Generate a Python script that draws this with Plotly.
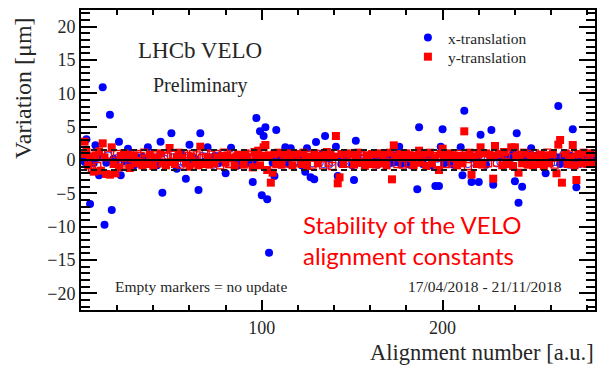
import plotly.graph_objects as go

# Alignment runs 1..283 and the variation of the VELO half alignment (µm)
alignment = list(range(1, 284))

x_translation = [
    0.4, -0.3, 3.1, 0.6, -6.6, 0.2, -0.5, 2.2, 0.3, -2.3,
    0.5, 10.9, -9.7, -0.4, 0.7, 6.8, -7.5, 0.2, -0.6, 0.3,
    2.75, -2.3, 0.4, -0.2, 0.5, 1.7, -0.3, 0.2, -0.9, 0.6,
    -0.4, 0.3, -0.7, 0.5, -0.2, 0.1, 1.9, -0.5, 0.4, -0.6,
    0.3, -0.8, 0.5, 2.75, -4.9, 0.2, -0.4, 0.6, -0.3, 4.0,
    0.4, -0.7, -1.3, 0.5, -0.2, 0.8, -0.5, -2.8, 0.3, 2.3,
    -0.6, 0.4, 0.2, -0.5, -4.5, 4.0, 0.6, -0.3, 0.5, 1.9,
    -0.4, 0.3, -0.7, 0.6, 0.1, -0.5, 0.7, -0.2, 0.4, -2.0,
    0.5, -0.6, 1.85, 0.2, -0.4, 0.6, -0.8, 0.3, 0.5, -0.3,
    0.7, -0.5, 0.2, 0.4, -3.3, -0.6, 6.3, 0.5, 4.3, -5.3,
    3.6, 4.9, -5.9, -13.9, 0.6, -0.4, -2.4, 4.5, 0.3, -0.7,
    0.5, -0.3, 1.9, 0.2, -0.6, 1.75, 0.4, -0.5, 0.7, -0.2,
    0.3, -0.8, 0.6, -1.75, 1.75, 0.4, -2.6, -0.5, -2.9, 2.7,
    0.5, -0.4, 0.8, -0.6, 3.6, 0.3, -0.7, 0.6, -0.3, 0.5,
    2.0, -2.4, 0.4, -0.6, 0.7, -0.2, 0.5, -0.5, 0.3, -0.8,
    -3.0, 2.9, 0.6, -0.4, 0.2, 0.7, -0.6, 0.4, -0.3, 0.8,
    -0.5, 0.3, 0.6, -0.7, 0.4, -0.2, 0.9, -0.5, 0.3, -0.6,
    0.5, -0.4, 0.7, -0.3, 0.2, 2.0, -0.6, 0.4, 0.8, -0.5,
    0.3, -0.7, 0.6, 0.2, -0.4, -4.4, 4.9, 0.5, -0.6, 0.3,
    0.7, -0.3, 0.4, -0.8, 0.6, -3.9, 0.2, -3.9, 2.0, 4.6,
    -0.5, 0.3, 0.8, -0.4, 0.6, -0.7, 0.2, 0.5, -0.3, 1.9,
    -2.3, 7.4, 0.4, -0.6, 0.7, -3.3, 0.3, -0.5, 0.6, -3.3,
    3.8, -0.4, 0.5, -0.7, 0.3, 0.8, 4.5, -3.7, 0.4, -0.5,
    0.6, -0.3, 0.7, -0.8, 0.4, 0.2, -0.6, 0.5, 0.9, -3.2,
    4.0, -6.4, 0.3, -4.0, 0.6, -0.5, 0.7, -0.3, 1.75, 0.4,
    -0.6, 0.5, 0.8, -0.4, 0.3, -0.7, -2.0, 0.6, 0.2, -0.5,
    0.7, -0.3, 0.4, 8.1, -0.6, 0.5, 0.9, -0.4, 0.3, -0.7,
    0.6, 4.6, -0.2, -4.1, 0.5, -0.6, 0.8, 0.3, -0.5, 0.4,
    0.6, -0.3, 0.5,
]

y_translation = [
    0.9, 2.75, 1.2, -0.8, 0.5, -1.2, -1.75, 0.7, -0.9, 1.3,
    -1.6, 2.5, 0.4, -2.1, 0.8, -2.2, 1.9, -0.6, -2.0, 0.9,
    -1.1, 0.6, -0.7, 1.0, -0.4, 0.8, -1.2, 0.3, 0.7, -0.5,
    0.9, -0.3, 0.6, -0.8, 1.1, 0.2, -0.6, 0.8, 0.4, -0.9,
    0.7, 0.3, -0.5, 1.0, -0.4, 0.6, -0.8, 0.5, 1.8, -0.3,
    0.8, -0.6, 0.4, 1.1, -0.7, 0.3, 0.9, -0.4, 0.6, -1.0,
    0.5, 0.9, -0.5, 0.7, -0.8, 2.0, 0.3, -0.6, 1.0, 0.4,
    -0.7, 0.8, 0.2, -0.5, 0.9, 0.4, -0.8, 0.6, 1.1, -0.4,
    0.7, -0.6, 0.3, 0.9, -0.9, 0.5, 0.8, -0.3, 0.6, -0.7,
    1.0, 0.4, -0.5, 0.8, -1.1, 1.2, 0.5, 1.4, -0.8, 0.6,
    1.9, 2.25, -1.5, 0.7, -3.4, -1.9, 0.9, -0.6, 1.1, 0.3,
    -0.7, 0.8, 0.4, -0.5, 1.0, 0.6, -0.8, 0.5, 0.9, -0.4,
    0.7, -0.6, 1.1, 0.3, -0.9, 0.8, 0.5, -0.7, 1.0, 0.4,
    -0.5, 0.9, 0.6, -0.8, 0.7, 1.2, -0.4, 0.8, -0.9, 0.5,
    3.6, -3.5, -2.6, 0.9, -0.6, 0.7, 1.0, -0.5, 0.4, 0.8,
    -0.7, 0.6, 1.1, -0.4, 0.8, 0.3, -0.9, 0.7, 0.5, -0.6,
    0.9, 0.4, -0.7, 1.0, 0.6, -0.5, 0.8, 0.3, -0.8, 0.7,
    1.1, -2.9, 2.2, 0.5, -0.6, 0.9, 0.4, -0.7, 0.8, 1.0,
    -0.5, 0.7, 0.3, -0.8, 0.9, 0.6, 1.4, -0.4, 0.8, 0.5,
    -0.9, 0.7, 1.1, -0.5, 0.6, 0.4, -0.7, -1.5, 0.9, 1.7,
    0.5, -0.6, 0.8, 1.0, -0.4, 0.7, 0.3, -0.8, 0.9, 0.6,
    -0.5, 4.3, 0.7, -0.9, 1.1, -2.2, 0.5, 0.8, -0.6, 0.9,
    1.9, -0.7, 0.4, 1.0, -0.5, 0.8, 0.6, -2.8, 2.1, -0.4,
    0.9, 0.5, -0.8, 1.2, 0.7, -0.6, 0.4, 1.9, -0.9, 1.9,
    0.6, -1.9, 0.8, -0.5, 1.1, 0.4, -0.7, 0.9, 0.6, -0.8,
    1.0, 0.5, -0.6, 0.8, 0.3, -0.9, 0.7, 1.1, -0.5, 0.6,
    0.9, -0.7, -2.0, 2.3, 3.0, -3.4, 0.5, 1.0, -0.6, 0.8,
    0.4, 2.25, -0.8, -3.0, 0.9, 0.6, -0.5, 1.1, 0.7, -0.6,
    0.8, 1.0, -0.4,
]

# Runs where the alignment constants were not updated (drawn as empty markers)
no_update = [
    6, 9, 15, 20, 23, 25, 28, 31, 33, 35, 36, 39, 41, 43, 46, 48, 51, 55, 57,
    59, 62, 64, 67, 69, 72, 73, 75, 77, 79, 82, 84, 86, 88, 89, 93, 94, 110,
    114, 118, 120, 121, 126, 128, 132, 134, 137, 139, 146, 148, 149, 155, 156,
    159, 162, 165, 168, 170, 175, 178, 181, 183, 185, 190, 192, 195, 197, 202,
    205, 207, 209, 214, 218, 223, 225, 230, 232, 235, 237, 246, 248, 251, 255,
    258, 260, 262, 267, 270, 276, 279, 281,
]

# Update thresholds (µm)
thresholds = [-1.5, 1.5]

x_tick_values = [100, 200]

BLUE = "#0000ff"
RED = "#ff0000"
SERIF = "Liberation Serif"
INK = "#262626"

skip = set(no_update)
upd_idx = [i for i, a in enumerate(alignment) if a not in skip]
noupd_idx = [i for i, a in enumerate(alignment) if a in skip]


def pick(values, idx):
    return [values[i] for i in idx]


fig = go.Figure()

# empty x-translation markers (no update)
fig.add_trace(go.Scatter(
    x=pick(alignment, noupd_idx), y=pick(x_translation, noupd_idx),
    mode="markers", showlegend=False,
    marker=dict(symbol="circle-open", size=7, color="#2a3cff", line=dict(width=1.1)),
))
# filled x-translation markers (updated runs)
fig.add_trace(go.Scatter(
    x=pick(alignment, upd_idx), y=pick(x_translation, upd_idx),
    mode="markers", name="x-translation", legend="legend",
    marker=dict(symbol="circle", size=8, color=BLUE, line=dict(width=0)),
))
# empty y-translation markers (no update)
fig.add_trace(go.Scatter(
    x=pick(alignment, noupd_idx), y=pick(y_translation, noupd_idx),
    mode="markers", showlegend=False,
    marker=dict(symbol="square-open", size=7, color=RED, line=dict(width=1.3)),
))
# filled y-translation markers (updated runs)
fig.add_trace(go.Scatter(
    x=pick(alignment, upd_idx), y=pick(y_translation, upd_idx),
    mode="markers", name="y-translation", legend="legend2",
    marker=dict(symbol="square", size=8, color=RED, line=dict(width=0)),
))

# zero line and dashed threshold lines
fig.add_hline(y=0, line=dict(color="black", width=2), layer="above")
for t in thresholds:
    fig.add_hline(y=t, line=dict(color="#1a1a1a", width=2, dash="6px,4px"), layer="above")

axis_common = dict(
    showline=True, linecolor="black", linewidth=2, mirror="allticks",
    ticks="inside", tickcolor="black", tickwidth=2,
    showgrid=False, zeroline=False,
    tickfont=dict(family=SERIF, size=18, color=INK),
)

fig.update_xaxes(
    range=[0, 284.3],
    tickmode="array", tickvals=x_tick_values, ticklen=10,
    minor=dict(tickmode="linear", tick0=0, dtick=20, ticklen=5, ticks="inside",
               tickcolor="black", tickwidth=2),
    **axis_common,
)
fig.update_yaxes(
    range=[-22.5, 22.5],
    tickmode="linear", tick0=0, dtick=5, ticklen=16,
    minor=dict(tickmode="linear", tick0=0, dtick=1, ticklen=9, ticks="inside",
               tickcolor="black", tickwidth=2),
    **axis_common,
)

annotations = [
    dict(text="Variation [μm]", textangle=-90, xref="paper", yref="paper",
         x=-0.113, y=0.74, xanchor="center", yanchor="middle", showarrow=False,
         font=dict(family=SERIF, size=24, color=INK)),
    dict(text="Alignment number [a.u.]", xref="paper", yref="paper",
         x=1.002, y=-0.14, xanchor="right", yanchor="middle", showarrow=False,
         font=dict(family=SERIF, size=22.5, color=INK)),
    dict(text="LHCb VELO", xref="paper", yref="paper",
         x=0.231, y=0.865, xanchor="center", yanchor="middle", showarrow=False,
         font=dict(family=SERIF, size=23, color=INK)),
    dict(text="Preliminary", xref="paper", yref="paper",
         x=0.231, y=0.747, xanchor="center", yanchor="middle", showarrow=False,
         font=dict(family=SERIF, size=20, color=INK)),
    dict(text="Empty markers = no update", xref="paper", yref="paper",
         x=0.062, y=0.08, xanchor="left", yanchor="middle", showarrow=False,
         font=dict(family=SERIF, size=15.5, color=INK)),
    dict(text="17/04/2018 - 21/11/2018", xref="paper", yref="paper",
         x=0.94, y=0.08, xanchor="right", yanchor="middle", showarrow=False,
         font=dict(family=SERIF, size=15.5, color=INK)),
    dict(text="Stability of the VELO", xref="paper", yref="paper",
         x=0.428, y=0.285, xanchor="left", yanchor="middle", showarrow=False,
         font=dict(family="Lato", size=24, color=RED)),
    dict(text="alignment constants", xref="paper", yref="paper",
         x=0.428, y=0.182, xanchor="left", yanchor="middle", showarrow=False,
         font=dict(family="Lato", size=24, color=RED)),
]

legend_style = dict(xanchor="left", yanchor="middle", bgcolor="rgba(0,0,0,0)",
                    font=dict(family=SERIF, size=15.5, color=INK))

fig.update_layout(
    width=601, height=365,
    margin=dict(l=81, r=4, t=10, b=55),
    paper_bgcolor="white", plot_bgcolor="white",
    annotations=annotations,
    legend=dict(x=0.636, y=0.907, **legend_style),
    legend2=dict(x=0.636, y=0.843, **legend_style),
)

fig.write_html("out.html")
